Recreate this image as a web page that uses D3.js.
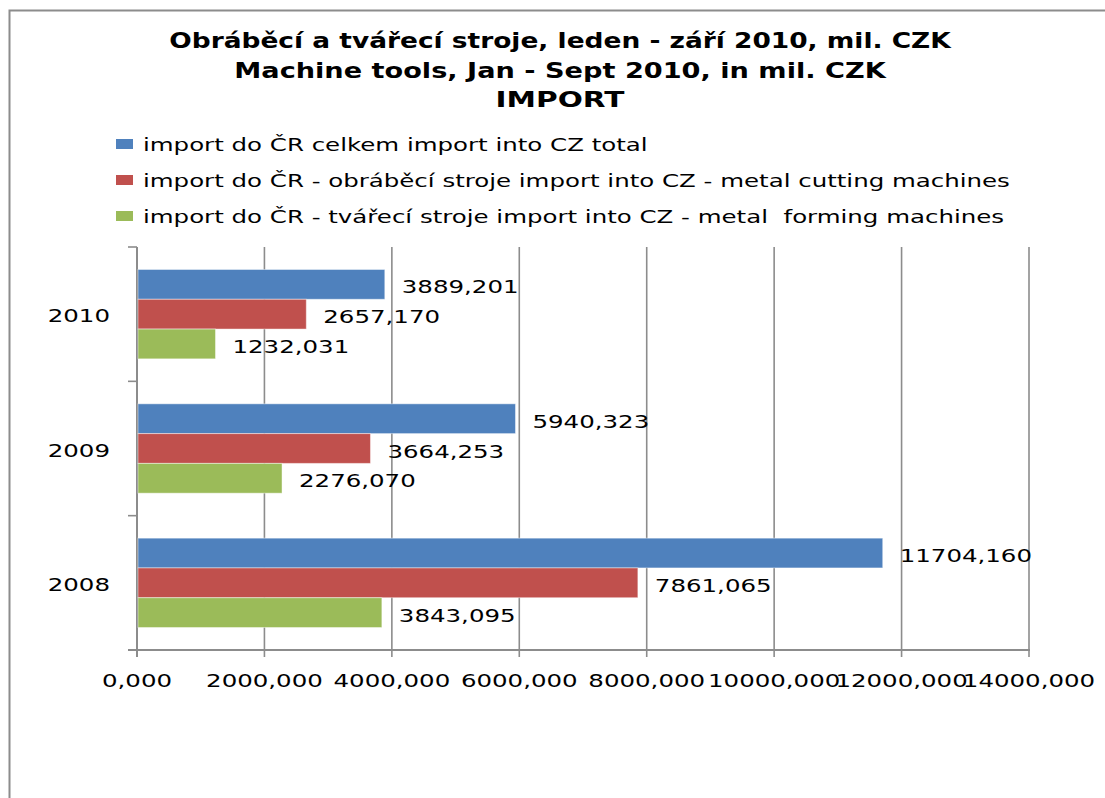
<!DOCTYPE html>
<html><head><meta charset="utf-8">
<script src="https://cdn.jsdelivr.net/npm/d3@7"></script>
<style>
body{margin:0;background:#fff;}
svg{display:block;}
text{font-family:"DejaVu Sans",sans-serif;fill:#000;white-space:pre;}
</style></head><body>
<svg id="c" width="1105" height="798"></svg>
<script>
const titleLines = ["Obráběcí a tvářecí stroje, leden - září 2010, mil. CZK","Machine tools, Jan - Sept 2010, in mil. CZK","IMPORT"];
const categories = ["2010","2009","2008"];
const seriesNames = ["import do ČR celkem import into CZ total","import do ČR - obráběcí stroje import into CZ - metal cutting machines","import do ČR - tvářecí stroje import into CZ - metal  forming machines"];
const totalValues = [3889.201, 5940.323, 11704.160];
const cuttingValues = [2657.170, 3664.253, 7861.065];
const formingValues = [1232.031, 2276.070, 3843.095];
const seriesColors = ["#4F81BD","#C0504D","#9BBB59"];
const xTicks = [0,2000,4000,6000,8000,10000,12000,14000];

const seriesValues = [totalValues, cuttingValues, formingValues];
const fmt = v => d3.format(".3f")(v).replace(".", ",");

const svg = d3.select("#c");
// frame
svg.append("rect").attr("x",9.5).attr("y",10.5).attr("width",1120).attr("height",820)
  .attr("fill","none").attr("stroke","#8c8c8c").attr("stroke-width",2);

const plot = {left:137, right:1029, top:247, bottom:650};
const x = d3.scaleLinear().domain([0,14000]).range([plot.left, plot.right]);
const y = d3.scaleBand().domain(categories).range([plot.top, plot.bottom]).padding(0);
const yi = d3.scaleBand().domain(d3.range(3)).range([0, y.bandwidth()]).paddingInner(0).paddingOuter(0.755);

function stext(g, tx, ty, str, opts){
  return g.append("text").attr("transform",`translate(${tx},${ty}) scale(${opts.sx},1)`)
    .attr("text-anchor",opts.anchor||"start").style("font-size",opts.size+"px")
    .style("font-weight",opts.weight||"normal").text(str);
}
function measure(str, size, weight){
  const m = svg.append("text").style("font-size",size+"px").style("font-weight",weight||"normal").text(str);
  const w = m.node().getComputedTextLength(); m.remove(); return w;
}
const bodySx = 505 / measure(seriesNames[0], 18);

// title, each line fitted to the reference's line width
const titleWidths = [782, 652, 129];
titleLines.forEach((l,i)=> stext(svg, 560, 48 + i*29.5, l,
  {sx: titleWidths[i]/measure(l,21,"bold"), size:21, weight:"bold", anchor:"middle"}));

// legend
const leg = svg.append("g");
seriesNames.forEach((n,i)=>{
  const cy = 144 + i*36;
  leg.append("rect").attr("x",116).attr("y",cy-5).attr("width",17).attr("height",10).attr("fill",seriesColors[i]);
  stext(leg, 143, cy+7, n, {sx:bodySx, size:18});
});

// gridlines
const grid = svg.append("g");
xTicks.forEach(t=>{
  grid.append("line").attr("x1",x(t)).attr("x2",x(t)).attr("y1",plot.top).attr("y2",plot.bottom+7)
   .attr("stroke","#8c8c8c").attr("stroke-width",t===0?2:1.6);
});
grid.append("line").attr("x1",plot.left-9).attr("x2",plot.right+1).attr("y1",plot.bottom).attr("y2",plot.bottom)
  .attr("stroke","#8c8c8c").attr("stroke-width",2);
[plot.top, ...categories.map(c=>y(c)+y.bandwidth())].forEach(v=>{
  grid.append("line").attr("x1",plot.left-9).attr("x2",plot.left).attr("y1",v).attr("y2",v)
   .attr("stroke","#8c8c8c").attr("stroke-width",1.6);
});

// bars
const bars = svg.append("g");
categories.forEach((c,ci)=>{
  seriesValues.forEach((vals,si)=>{
    const by = y(c)+yi(si);
    bars.append("rect").attr("x",x(0)+1).attr("y",by).attr("width",x(vals[ci])-x(0)-1).attr("height",yi.bandwidth())
      .attr("fill",seriesColors[si]).attr("stroke","rgba(255,255,255,0.45)").attr("stroke-width",1);
  });
});
// value labels
categories.forEach((c,ci)=>{
  seriesValues.forEach((vals,si)=>{
    const by = y(c)+yi(si)+yi.bandwidth()/2;
    stext(svg, x(vals[ci])+17, by+9, fmt(vals[ci]), {sx:bodySx, size:18});
  });
});
categories.forEach(c=> stext(svg, 110, y(c)+y.bandwidth()/2+8, c, {sx:bodySx, size:18, anchor:"end"}));
xTicks.forEach(t=> stext(svg, x(t), 687, fmt(t), {sx:bodySx, size:18, anchor:"middle"}));
</script></body></html>
